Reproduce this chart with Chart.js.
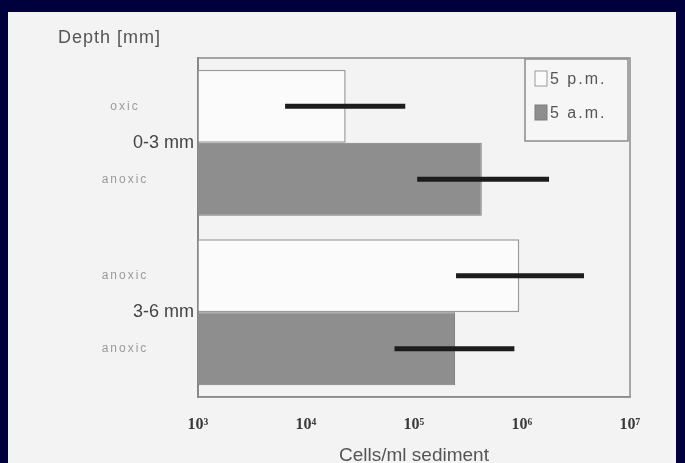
<!DOCTYPE html>
<html>
<head>
<meta charset="utf-8">
<script src="https://cdn.jsdelivr.net/npm/chart.js@4"></script>
<style>
html, body { margin: 0; padding: 0; width: 685px; height: 463px; overflow: hidden; background: #00003c; }
#panel { position: absolute; left: 8px; top: 12px; width: 668px; height: 451px; background: #f3f3f3; }
#c { position: absolute; left: 0; top: 0; }
</style>
</head>
<body>
<div id="panel"></div>
<canvas id="c" width="685" height="463"></canvas>
<script>
// data
var depths = ['0-3 mm', '3-6 mm'];
var pmCells = [23300, 944000];
var amCells = [424000, 240000];
var pmRange = [[6400, 83000], [245000, 3750000]];
var amRange = [[107000, 1780000], [66000, 850000]];
var pmNotes = ['oxic', 'anoxic'];
var amNotes = ['anoxic', 'anoxic'];
var xTickValues = [1e3, 1e4, 1e5, 1e6, 1e7];
var xTickLabels = ['10³', '10⁴', '10⁵', '10⁶', '10⁷'];

var ranges = [pmRange, amRange];
var notes = [pmNotes, amNotes];

var extras = {
    id: 'extras',
    afterDatasetsDraw: function(chart) {
        var ctx = chart.ctx;
        var area = chart.chartArea;
        var xs = chart.scales.x;
        ctx.save();

        // frame round the plot
        ctx.strokeStyle = '#8c8c8c';
        ctx.lineWidth = 1.5;
        ctx.strokeRect(area.left, area.top, area.right - area.left, area.bottom - area.top);

        // error bars and oxic/anoxic notes
        for (var i = 0; i < chart.data.datasets.length; i++) {
            var meta = chart.getDatasetMeta(i);
            for (var j = 0; j < meta.data.length; j++) {
                var bar = meta.data[j];
                var x1 = xs.getPixelForValue(ranges[i][j][0]);
                var x2 = xs.getPixelForValue(ranges[i][j][1]);
                ctx.strokeStyle = '#1c1c1c';
                ctx.lineWidth = 5;
                ctx.beginPath();
                ctx.moveTo(x1, bar.y);
                ctx.lineTo(x2, bar.y);
                ctx.stroke();

                ctx.fillStyle = '#9a9a9a';
                ctx.font = '12px "Liberation Sans"';
                ctx.letterSpacing = '2px';
                ctx.textAlign = 'center';
                ctx.textBaseline = 'middle';
                ctx.fillText(notes[i][j], area.left - 73, bar.y);
            }
        }
        ctx.restore();
    },
    afterDraw: function(chart) {
        var ctx = chart.ctx;
        var area = chart.chartArea;
        ctx.save();

        // axis caption top left
        ctx.fillStyle = '#555';
        ctx.font = '18px "Liberation Sans"';
        ctx.letterSpacing = '1px';
        ctx.textAlign = 'left';
        ctx.textBaseline = 'middle';
        ctx.fillText('Depth [mm]', area.left - 140, area.top - 20);

        // legend box
        var bx = area.right - 105, by = area.top + 1, bw = 103, bh = 82;
        ctx.fillStyle = '#f6f6f6';
        ctx.fillRect(bx, by, bw, bh);
        ctx.strokeStyle = '#8c8c8c';
        ctx.lineWidth = 1.5;
        ctx.strokeRect(bx, by, bw, bh);
        var ds = chart.data.datasets;
        for (var i = 0; i < ds.length; i++) {
            var sy = by + 12 + i * 34;
            ctx.fillStyle = ds[i].backgroundColor;
            ctx.fillRect(bx + 10, sy, 12, 15);
            ctx.strokeStyle = ds[i].borderColor;
            ctx.lineWidth = 1;
            ctx.strokeRect(bx + 10, sy, 12, 15);
            ctx.fillStyle = '#555';
            ctx.font = '16px "Liberation Sans"';
            ctx.letterSpacing = '2px';
            ctx.textAlign = 'left';
            ctx.textBaseline = 'middle';
            ctx.fillText(ds[i].label, bx + 25, sy + 9);
        }
        ctx.restore();
    }
};

var ctx = document.getElementById('c').getContext('2d');
var myChart = new Chart(ctx, {
    type: 'bar',
    data: {
        labels: depths,
        datasets: [{
            label: '5 p.m.',
            data: pmCells,
            backgroundColor: '#fbfbfb',
            borderColor: '#9a9a9a',
            borderWidth: 1.5
        }, {
            label: '5 a.m.',
            data: amCells,
            backgroundColor: '#8e8e8e',
            borderColor: '#7c7c7c',
            borderWidth: 1
        }]
    },
    options: {
        indexAxis: 'y',
        responsive: false,
        animation: false,
        devicePixelRatio: 1,
        layout: { padding: { top: 58, right: 55, left: 0, bottom: 0 } },
        datasets: { bar: { categoryPercentage: 0.86, barPercentage: 1 } },
        plugins: { legend: { display: false }, tooltip: { enabled: false } },
        scales: {
            x: {
                type: 'logarithmic',
                min: 1000,
                max: 1e7,
                afterBuildTicks: function(s) {
                    s.ticks = xTickValues.map(function(v) { return { value: v }; });
                },
                afterFit: function(s) { s.height = 66; },
                grid: { display: false, drawTicks: false },
                border: { display: true, color: '#8c8c8c', width: 1.5 },
                ticks: {
                    autoSkip: false,
                    maxRotation: 0,
                    padding: 18,
                    color: '#3a3a3a',
                    font: { family: 'Liberation Serif', size: 16, weight: 'bold' },
                    callback: function(v, i) { return xTickLabels[i]; }
                },
                title: {
                    display: true,
                    text: 'Cells/ml sediment',
                    color: '#555',
                    font: { family: 'Liberation Sans', size: 19 },
                    padding: { top: 0, bottom: -4 }
                }
            },
            y: {
                afterFit: function(s) { s.width = 198; },
                grid: { display: false, drawTicks: false },
                border: { display: true, color: '#7a7a7a', width: 2 },
                ticks: {
                    padding: 4,
                    color: '#444',
                    font: { family: 'Liberation Sans', size: 18 }
                }
            }
        }
    },
    plugins: [extras]
});
</script>
</body>
</html>
